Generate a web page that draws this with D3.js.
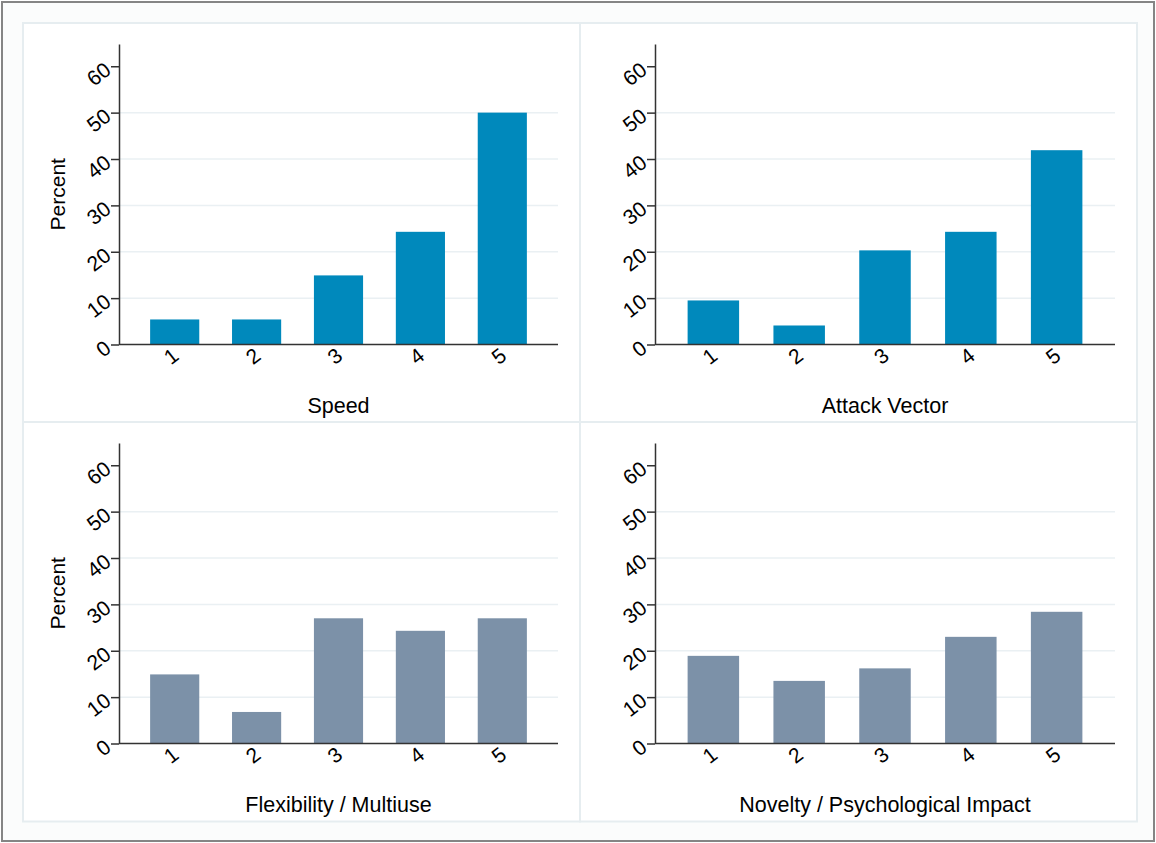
<!DOCTYPE html>
<html>
<head>
<meta charset="utf-8">
<script src="https://cdn.jsdelivr.net/npm/d3@7/dist/d3.min.js"></script>
<style>
  html, body { margin: 0; padding: 0; background: #ffffff; }
  svg { display: block; }
  text { font-family: "Liberation Sans", Arial, sans-serif; fill: #000; }
</style>
</head>
<body>
<svg id="chart" width="1156" height="843"></svg>
<script>
// Response categories (rating 1-5)
const categories = ["1", "2", "3", "4", "5"];

// Percent of respondents per rating, one array per attribute
const speed       = [5.4, 5.4, 14.9, 24.3, 50.0];
const attackVec   = [9.5, 4.1, 20.3, 24.3, 41.9];
const flexibility = [14.9, 6.8, 27.0, 24.3, 27.0];
const novelty     = [18.9, 13.5, 16.2, 23.0, 28.4];

const panelTitles = ["Speed", "Attack Vector", "Flexibility / Multiuse", "Novelty / Psychological Impact"];
const yTicks = [0, 10, 20, 30, 40, 50, 60];
const gridTicks = [10, 20, 30, 40, 50];
const yLabel = "Percent";

const panels = [
  { title: panelTitles[0], values: speed,       color: "#0089bc", col: 0, row: 0 },
  { title: panelTitles[1], values: attackVec,   color: "#0089bc", col: 1, row: 0 },
  { title: panelTitles[2], values: flexibility, color: "#7c91a8", col: 0, row: 1 },
  { title: panelTitles[3], values: novelty,     color: "#7c91a8", col: 1, row: 1 }
];

const svg = d3.select("#chart");

// outer frame
svg.append("rect")
  .attr("x", 2).attr("y", 2).attr("width", 1152).attr("height", 839)
  .attr("fill", "#fbfcfc").attr("stroke", "#858585").attr("stroke-width", 2);

const colX = [23, 580], rowY = [23, 422];
const panelW = 557, panelH = 399.5;
const tickAngle = -38;

panels.forEach(p => {
  const x0 = colX[p.col], y0 = rowY[p.row];
  const showY = p.col === 0;

  const g = svg.append("g");

  // panel box
  g.append("rect")
    .attr("x", x0).attr("y", y0).attr("width", panelW).attr("height", panelH)
    .attr("fill", "#ffffff").attr("stroke", "#e6edf0").attr("stroke-width", 2);

  const left = x0 + (showY ? 96 : 75);
  const right = x0 + 535;
  const top = y0 + 21;
  const bottom = y0 + 321.5;

  const x = d3.scaleBand().domain(categories).range([left, right])
    .paddingInner(0.4).paddingOuter(0.38);
  const y = d3.scaleLinear().domain([0, 64.8]).range([bottom, top]);

  // horizontal gridlines
  g.append("g").selectAll("line").data(gridTicks).join("line")
    .attr("x1", left).attr("x2", right)
    .attr("y1", d => y(d)).attr("y2", d => y(d))
    .attr("stroke", "#eaf0f3").attr("stroke-width", 1.5);

  // bars
  g.append("g").selectAll("rect").data(p.values).join("rect")
    .attr("x", (d, i) => x(categories[i]))
    .attr("width", x.bandwidth())
    .attr("y", d => y(d))
    .attr("height", d => y(0) - y(d))
    .attr("fill", p.color);

  // y axis
  const yAxis = g.append("g").attr("transform", `translate(${left},0)`)
    .call(d3.axisLeft(y).tickValues(yTicks).tickSize(8).tickSizeOuter(0).tickPadding(0));
  yAxis.select(".domain").attr("stroke", "#333").attr("stroke-width", 1.5);
  yAxis.selectAll(".tick line").attr("stroke", "#333").attr("stroke-width", 1.5);
  yAxis.selectAll(".tick text")
    .attr("x", null).attr("dy", null)
    .attr("font-size", 21)
    .attr("font-family", "Liberation Sans, Arial, sans-serif")
    .attr("fill", "#000")
    .attr("text-anchor", "end")
    .attr("transform", `translate(-11,0) rotate(${tickAngle})`)
    .attr("dy", "0.35em");

  // x axis
  const xAxis = g.append("g").attr("transform", `translate(0,${bottom})`)
    .call(d3.axisBottom(x).tickSize(0).tickSizeOuter(0).tickPadding(0));
  xAxis.select(".domain").attr("stroke", "#333").attr("stroke-width", 1.5)
    .attr("d", `M${left},0H${right}`);
  xAxis.selectAll(".tick text")
    .attr("y", null).attr("dy", null)
    .attr("font-size", 21)
    .attr("font-family", "Liberation Sans, Arial, sans-serif")
    .attr("fill", "#000")
    .attr("text-anchor", "end")
    .attr("transform", `translate(1,8) rotate(${tickAngle})`)
    .attr("dy", "0.35em");

  // panel title under the axis
  g.append("text")
    .attr("x", (left + right) / 2)
    .attr("y", y0 + 389.5)
    .attr("text-anchor", "middle")
    .attr("font-size", 21.5)
    .text(p.title);

  // y label on left column only
  if (showY) {
    g.append("text")
      .attr("transform", `translate(${x0 + 42},${(top + bottom) / 2}) rotate(-90)`)
      .attr("text-anchor", "middle")
      .attr("font-size", 21)
      .text(yLabel);
  }
});
</script>
</body>
</html>
